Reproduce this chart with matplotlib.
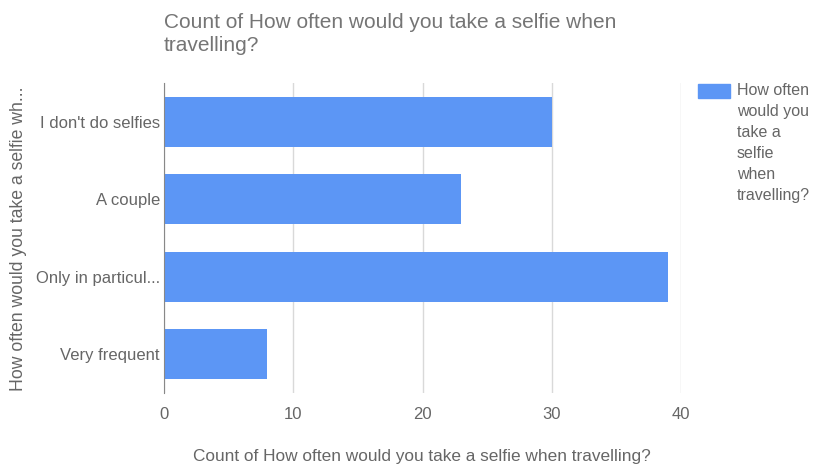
import matplotlib.pyplot as plt

# Data
categories = ["I don't do selfies", "A couple", "Only in particul...", "Very frequent"]
counts = [30, 23, 39, 8]
x_ticks = [0, 10, 20, 30, 40]

title = "Count of How often would you take a selfie when\ntravelling?"
x_label = "Count of How often would you take a selfie when travelling?"
y_label = "How often would you take a selfie wh..."
legend_label = "How often\nwould you\ntake a\nselfie\nwhen\ntravelling?"

plt.rcParams['font.family'] = ['Liberation Sans', 'DejaVu Sans']
txt = '#757575'

fig = plt.figure(figsize=(8.14, 4.66), dpi=100)
ax = fig.add_axes([164 / 814, 73 / 466, 517 / 814, 310 / 466])

pos = list(range(len(categories)))
ax.barh(pos, counts, height=0.645, color='#5c96f5', zorder=3)
ax.set_ylim(len(categories) - 0.5, -0.5)
ax.set_xlim(0, 40)
ax.set_yticks(pos)
ax.set_yticklabels(categories)
ax.set_xticks(x_ticks)

ax.grid(axis='x', color='#d9d9d9', linewidth=1, zorder=0)
for s in ['top', 'right', 'bottom']:
    ax.spines[s].set_visible(False)
ax.spines['left'].set_color('#888888')
ax.spines['left'].set_zorder(4)
ax.tick_params(axis='both', length=0, labelsize=12, labelcolor='#666666')
ax.tick_params(axis='x', pad=10)
ax.tick_params(axis='y', pad=3)

fig.text(164 / 814, 1 - 13 / 466, title, fontsize=15, color=txt,
         ha='left', va='top', linespacing=1.25)
fig.text(422 / 814, 1 - 456 / 466, x_label, fontsize=12.4, color='#666666',
         ha='center', va='center')
fig.text(19 / 814, 1 - 239 / 466, y_label, fontsize=12.7, color='#666666',
         ha='center', va='center', rotation=90)

# Legend
fig.patches.append(plt.Rectangle((698 / 814, 1 - 98 / 466), 32 / 814, 14 / 466,
                                 transform=fig.transFigure, color='#5c96f5'))
fig.text(737 / 814, 1 - 83 / 466, legend_label, fontsize=11.5, color='#666666',
         ha='left', va='top', linespacing=1.5)

fig.savefig('out.png', dpi=100)
